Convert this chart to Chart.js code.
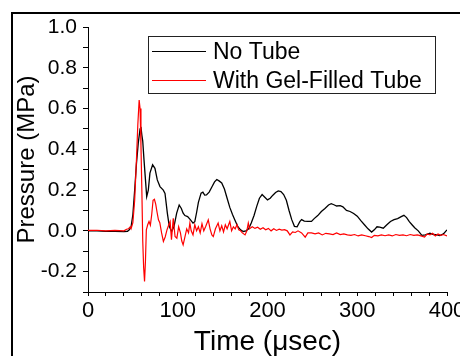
<!DOCTYPE html>
<html>
<head>
<meta charset="utf-8">
<script src="https://cdn.jsdelivr.net/npm/chart.js@4.4.1/dist/chart.umd.min.js"></script>
<style>
  html, body { margin: 0; padding: 0; background: #fff; }
  .wrap { width: 460px; height: 356px; overflow: hidden; position: relative; }
  canvas { display: block; }
</style>
</head>
<body>
<div class="wrap">
  <canvas id="pressureChart" width="480" height="372"></canvas>
</div>
<script>
const seriesLabels = ['No Tube', 'With Gel-Filled Tube'];

// No Tube (black) - time in usec, pressure in MPa
const noTubeTime = [0, 10, 20, 30, 40, 44, 46, 48, 50, 52, 54, 56, 58, 59, 60, 61, 62.4, 64.3, 65.4, 67.2, 69, 72, 74.6, 77.2, 80.2, 83.9, 85.8, 88.4, 90.6, 93.2, 95.8, 98.8, 101.6, 104, 106, 108, 111, 114, 117, 119, 121, 123, 126, 128, 130, 132, 135, 138, 141, 143.5, 146, 149, 152, 155, 158, 161, 164, 167, 170, 173, 176, 179, 182, 185, 188, 191, 194, 197, 200, 203, 206, 209, 212, 215, 218, 221, 224, 227, 230, 233, 236, 238, 241, 245, 249, 252, 256, 260, 264, 268, 271, 274, 277, 281, 284, 288, 292, 296, 300, 304, 308, 312, 316, 319, 322, 325, 329, 333, 337, 341, 345, 349, 352, 355, 358, 361, 364, 368, 372, 376, 381, 385, 389, 392, 396, 400];
const noTubeValues = [0.0, 0.0, -0.003, -0.002, -0.004, -0.002, 0.005, 0.02, 0.08, 0.2, 0.33, 0.43, 0.5, 0.51, 0.47, 0.44, 0.348, 0.234, 0.168, 0.2, 0.283, 0.324, 0.307, 0.25, 0.217, 0.2, 0.184, 0.087, 0.021, -0.003, 0.021, 0.087, 0.127, 0.11, 0.087, 0.075, 0.07, 0.055, 0.038, 0.045, 0.09, 0.14, 0.185, 0.19, 0.175, 0.176, 0.19, 0.215, 0.24, 0.252, 0.245, 0.235, 0.205, 0.16, 0.115, 0.08, 0.05, 0.02, 0.005, -0.003, 0.0, 0.01, 0.04, 0.075, 0.12, 0.16, 0.178, 0.165, 0.152, 0.16, 0.175, 0.188, 0.196, 0.193, 0.178, 0.15, 0.1, 0.055, 0.022, 0.02, 0.045, 0.055, 0.048, 0.046, 0.046, 0.06, 0.075, 0.095, 0.11, 0.127, 0.133, 0.128, 0.122, 0.124, 0.118, 0.1, 0.095, 0.085, 0.072, 0.05, 0.03, 0.01, -0.006, 0.005, 0.02, 0.018, 0.013, 0.03, 0.046, 0.055, 0.06, 0.07, 0.076, 0.065, 0.045, 0.03, 0.015, 0.0, -0.022, -0.02, -0.011, -0.018, -0.02, -0.023, -0.015, 0.005];

// With Gel-Filled Tube (red)
const gelTubeTime = [0, 10, 20, 30, 40, 43, 45, 47, 48, 50, 52, 54, 55.5, 57, 58, 59, 60, 61, 62, 63, 64, 65, 66.5, 68, 69.5, 71, 72.5, 74, 75.5, 77, 78.5, 80, 82, 84, 86, 88, 90, 91.5, 93, 95, 97, 99, 101, 103, 104.5, 106, 108, 110, 112, 113.5, 115, 117, 119, 121, 123, 125, 127, 129, 131, 134, 136, 138, 139.6, 142, 145, 147, 149, 151, 153, 155, 158, 160, 162, 164, 166, 168, 170, 172, 175, 177, 178.6, 180, 183, 186, 189, 192, 195, 198, 201, 204, 207, 210, 213, 216, 219, 222, 225, 228, 231, 234, 238, 242, 245, 249, 253, 257, 261, 265, 269, 273, 277, 281, 285, 289, 293, 297, 301, 305, 309, 313, 316, 319, 323, 327, 331, 335, 339, 343, 347, 351, 355, 359, 363, 367, 371, 375, 378, 381, 384, 387, 390, 393, 396, 400];
const gelTubeValues = [0.002, 0.003, 0.0, 0.002, 0.0, 0.008, 0.01, 0.02, 0.01, 0.04, 0.15, 0.35, 0.52, 0.642, 0.6, 0.42, 0.2, -0.05, -0.18, -0.248, -0.15, 0.005, 0.03, 0.046, 0.028, 0.08, 0.15, 0.155, 0.13, 0.09, 0.054, 0.04, -0.01, -0.052, -0.03, 0.005, 0.03, 0.046, -0.044, 0.062, -0.028, -0.036, 0.02, -0.01, -0.05, -0.069, -0.03, 0.01, -0.01, 0.038, 0.0, -0.02, 0.03, 0.0, 0.02, -0.01, 0.035, 0.0, 0.02, 0.054, 0.01, -0.02, -0.028, 0.01, 0.038, 0.0, 0.025, -0.005, 0.03, 0.01, 0.046, 0.0, 0.02, 0.01, 0.03, 0.005, 0.0, -0.01, -0.02, 0.0, 0.038, 0.01, 0.02, 0.012, 0.018, 0.008, 0.015, 0.005, 0.012, 0.0, 0.01, 0.002, 0.008, 0.004, 0.006, 0.0, -0.02, -0.005, -0.008, 0.0, -0.01, -0.031, -0.01, -0.01, -0.015, -0.01, -0.02, -0.012, -0.015, -0.018, -0.01, -0.018, -0.015, -0.02, -0.022, -0.018, -0.025, -0.02, -0.024, -0.028, -0.033, -0.022, -0.025, -0.02, -0.024, -0.02, -0.025, -0.018, -0.022, -0.02, -0.024, -0.018, -0.022, -0.02, -0.025, -0.03, -0.015, -0.02, -0.012, -0.025, -0.015, -0.022, -0.018, -0.025];

const xTickLabels = [0, 100, 200, 300, 400];
const yTickLabels = [-0.2, 0.0, 0.2, 0.4, 0.6, 0.8, 1.0];

const FONT = "'Liberation Sans', Arial, sans-serif";

function toPoints(xs, ys) {
  return xs.map((x, i) => ({ x, y: ys[i] }));
}

// outer frame of the figure panel
const framePlugin = {
  id: 'frame',
  beforeDraw(chart) {
    const ctx = chart.ctx;
    ctx.save();
    ctx.fillStyle = '#fff';
    ctx.fillRect(0, 0, chart.width, chart.height);
    ctx.fillStyle = '#000';
    ctx.fillRect(11, 12, 2, chart.height);
    ctx.fillRect(11, 12, chart.width, 2);
    ctx.restore();
  },
};

// boxed legend inside the plot
const boxLegendPlugin = {
  id: 'boxLegend',
  afterDraw(chart) {
    const ctx = chart.ctx;
    const rows = [0, 1].map((i) => chart.data.datasets[i]);
    ctx.save();
    ctx.strokeStyle = '#222';
    ctx.lineWidth = 1;
    ctx.strokeRect(148.5, 36.5, 287, 57);
    ctx.font = `23px ${FONT}`;
    ctx.textBaseline = 'alphabetic';
    ctx.textAlign = 'left';
    rows.forEach((ds, i) => {
      const y = i === 0 ? 51 : 80;
      const base = i === 0 ? 58.5 : 88;
      ctx.strokeStyle = ds.borderColor;
      ctx.lineWidth = 1.2;
      ctx.beginPath();
      ctx.moveTo(152, y + 0.5);
      ctx.lineTo(206, y + 0.5);
      ctx.stroke();
      ctx.fillStyle = '#000';
      ctx.fillText(ds.label, 213, base);
    });
    ctx.restore();
  },
};

const context = document.getElementById('pressureChart').getContext('2d');

new Chart(context, {
  type: 'line',
  data: {
    datasets: [
      {
        label: seriesLabels[0],
        data: toPoints(noTubeTime, noTubeValues),
        borderColor: '#000000',
        borderWidth: 1.3,
        pointRadius: 0,
        tension: 0,
        order: 2,
      },
      {
        label: seriesLabels[1],
        data: toPoints(gelTubeTime, gelTubeValues),
        borderColor: '#ff0000',
        borderWidth: 1.2,
        pointRadius: 0,
        tension: 0,
        order: 1,
      },
    ],
  },
  options: {
    responsive: false,
    animation: false,
    events: [],
    layout: {
      autoPadding: false,
      padding: { left: 0, top: 27, right: 33, bottom: 0 },
    },
    plugins: {
      legend: { display: false },
      tooltip: { enabled: false },
    },
    scales: {
      x: {
        type: 'linear',
        min: 0,
        max: 400,
        afterFit(scale) {
          scale.height = 80;
        },
        border: { display: true, color: '#000', width: 1 },
        grid: {
          drawOnChartArea: false,
          drawTicks: true,
          tickLength: 4,
          color: '#000',
        },
        ticks: {
          stepSize: 20,
          autoSkip: false,
          maxRotation: 0,
          padding: 2,
          color: '#000',
          font: { family: FONT, size: 22 },
          callback: (v) => (xTickLabels.includes(v) ? String(v) : ''),
        },
        title: {
          display: true,
          text: 'Time (\u03bcsec)',
          color: '#000',
          font: { family: FONT, size: 28 },
          padding: { top: 0, bottom: 13 },
        },
      },
      y: {
        type: 'linear',
        min: -0.3,
        max: 1.0,
        afterFit(scale) {
          scale.width = 88;
        },
        border: { display: true, color: '#000', width: 1 },
        grid: {
          drawOnChartArea: false,
          drawTicks: true,
          tickLength: 5,
          color: '#000',
        },
        ticks: {
          stepSize: 0.1,
          autoSkip: false,
          padding: 6,
          color: '#000',
          font: { family: FONT, size: 21 },
          callback: (v) => {
            const k = Math.round(v * 10) / 10;
            return yTickLabels.some((t) => Math.abs(t - k) < 1e-6) ? k.toFixed(1) : '';
          },
        },
        title: {
          display: true,
          text: 'Pressure (MPa)',
          color: '#000',
          font: { family: FONT, size: 24 },
          padding: { top: 13, bottom: 0 },
        },
      },
    },
  },
  plugins: [framePlugin, boxLegendPlugin],
});
</script>
</body>
</html>
